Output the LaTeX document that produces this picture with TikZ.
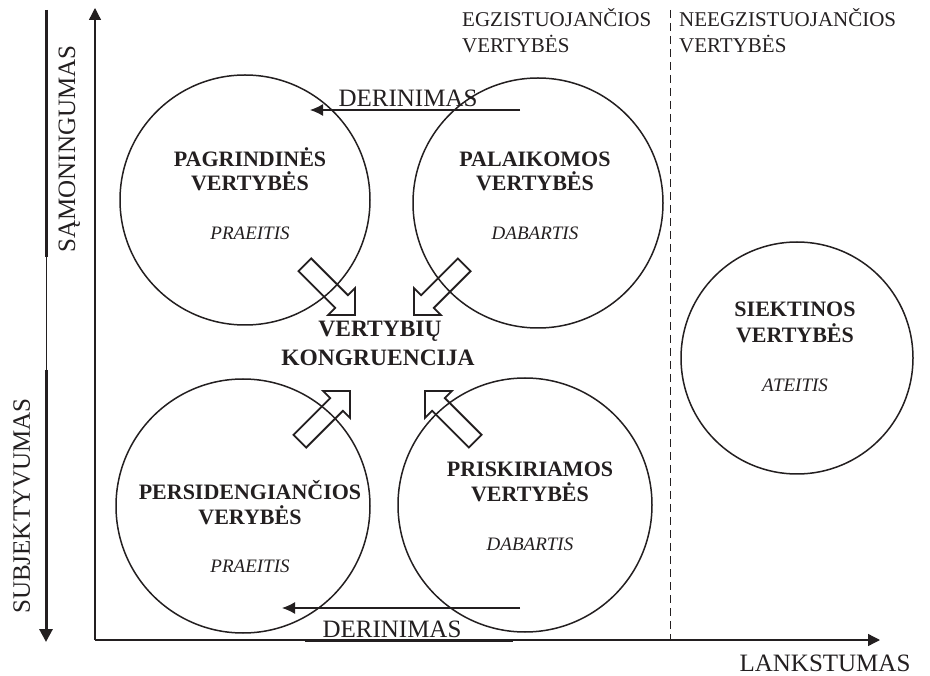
\documentclass[tikz,border=0pt]{standalone}
\usepackage{fontspec}
\setmainfont{Liberation Serif}
\usetikzlibrary{arrows.meta,calc}
\definecolor{ink}{RGB}{35,31,32}
\begin{document}
\begin{tikzpicture}[x=1pt,y=-1pt,
  every node/.style={inner sep=0pt, text=ink},
  axisline/.style={draw=ink, line width=1.3pt, -{Triangle[length=12pt,width=12pt]}},
  valcircle/.style={draw=ink, line width=1.5pt, circle, minimum size=#1},
  flowarrow/.style={draw=ink, line width=1.3pt, -{Latex[length=13pt,width=12pt]}},
  blockarrow/.style={draw=ink, line width=1.8pt, line join=miter},
  title/.style={font=\fontsize{22}{26}\selectfont\bfseries, anchor=base},
  era/.style={font=\fontsize{19}{23}\selectfont\itshape, anchor=base},
  biglabel/.style={font=\fontsize{25}{30}\selectfont},
  toplabel/.style={font=\fontsize{21}{26}\selectfont, anchor=base west},
  centrelabel/.style={font=\fontsize{23.5}{28}\selectfont\bfseries, anchor=base}
]
\useasboundingbox (0,0) rectangle (930,676);

% axes
\coordinate (O) at (95,640);
\coordinate (Ytop) at (95,8);
\coordinate (Xend) at (880,640);
\draw[axisline] (O) -- (Ytop);
\draw[axisline] (O) -- (Xend);
\draw[ink, line width=3pt] (305,640) -- (513,640);

% left bar: consciousness up, subjectivity down
\coordinate (barTop) at (46,10);
\coordinate (barMidA) at (46,257);
\coordinate (barMidB) at (46,370);
\coordinate (barBot) at (46,642);
\draw[ink, line width=0.8pt] (barMidA) -- (barMidB);
\draw[ink, line width=3pt] (barTop) -- (barMidA);
\draw[ink, line width=3pt, -{Triangle[length=13pt,width=13pt]}] (barMidB) -- (barBot);

% divider between existing and non-existing values
\coordinate (divTop) at (670,10);
\coordinate (divBot) at (670,640);
\draw[ink, line width=0.9pt, dash pattern=on 8pt off 5pt] (divTop) -- (divBot);

% axis labels
\node[biglabel, rotate=90, anchor=base] (conc) at (75,149) {SĄMONINGUMAS};
\node[biglabel, rotate=90, anchor=base] (subj) at (30,506) {SUBJEKTYVUMAS};
\node[biglabel, anchor=base] (flex) at (825,671) {LANKSTUMAS};

% column headings
\node[toplabel] (ex1) at (462,27) {EGZISTUOJANČIOS};
\node[toplabel] (ex2) at (462,53) {VERTYBĖS};
\node[toplabel] (nex1) at (679,27) {NEEGZISTUOJANČIOS};
\node[toplabel] (nex2) at (679,53) {VERTYBĖS};

% value circles
\node[valcircle=250pt] (core) at (245,200) {};
\node[valcircle=250pt] (held) at (538,203) {};
\node[valcircle=254pt] (over) at (243,506) {};
\node[valcircle=254pt] (attr) at (525,505) {};
\node[valcircle=232pt] (goal) at (797,358) {};

\node[title] (coreA) at (250,167) {PAGRINDINĖS};
\node[title] (coreB) at (250,191) {VERTYBĖS};
\node[era]   (coreC) at (250,240) {PRAEITIS};

\node[title] (heldA) at (535,167) {PALAIKOMOS};
\node[title] (heldB) at (535,191) {VERTYBĖS};
\node[era]   (heldC) at (535,240) {DABARTIS};

\node[title] (overA) at (250,500) {PERSIDENGIANČIOS};
\node[title] (overB) at (250,525) {VERYBĖS};
\node[era]   (overC) at (250,572) {PRAEITIS};

\node[title] (attrA) at (530,477) {PRISKIRIAMOS};
\node[title] (attrB) at (530,501) {VERTYBĖS};
\node[era]   (attrC) at (530,550) {DABARTIS};

\node[title] (goalA) at (795,317) {SIEKTINOS};
\node[title] (goalB) at (795,343) {VERTYBĖS};
\node[era]   (goalC) at (795,392) {ATEITIS};

% congruence in the middle
\node[centrelabel] (congA) at (380,337) {VERTYBIŲ};
\node[centrelabel] (congB) at (378,366) {KONGRUENCIJA};

% harmonisation arrows
\coordinate (harmTopS) at (520,110);
\coordinate (harmTopE) at (310,110);
\draw[flowarrow] (harmTopS) -- (harmTopE);
\node[biglabel, anchor=base] (harmTop) at (408,107) {DERINIMAS};

\coordinate (harmBotS) at (520,608);
\coordinate (harmBotE) at (282,608);
\draw[flowarrow] (harmBotS) -- (harmBotE);
\node[biglabel, anchor=base] (harmBot) at (392,637) {DERINIMAS};

% hollow block arrows converging on the congruence label
\coordinate (tipUL) at (355,315);
\coordinate (tipUR) at (414,315);
\coordinate (tipLL) at (350,391);
\coordinate (tipLR) at (425,391);
\foreach \tip/\ang in {tipUL/-45, tipUR/-135, tipLL/45, tipLR/135}{
  \begin{scope}[shift={(\tip)}, rotate=\ang]
    \draw[blockarrow] (0,0) -- (-19,19) -- (-19,9) -- (-71,9) -- (-71,-9)
      -- (-19,-9) -- (-19,-19) -- cycle;
  \end{scope}
}
\end{tikzpicture}
\end{document}
